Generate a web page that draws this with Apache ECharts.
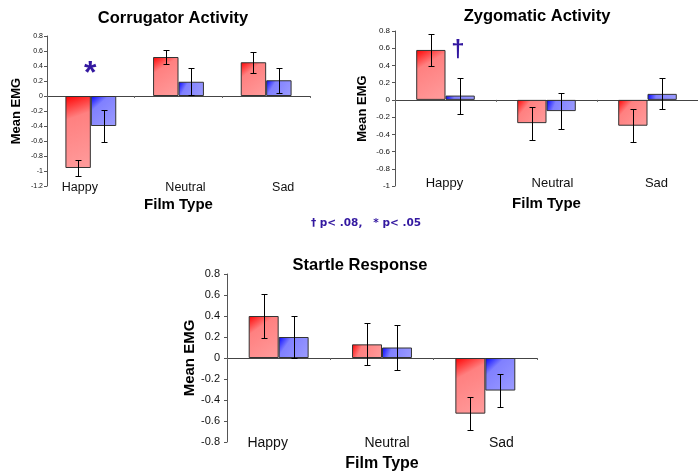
<!DOCTYPE html>
<html>
<head>
<meta charset="utf-8">
<script src="https://cdn.jsdelivr.net/npm/echarts@6/dist/echarts.min.js"></script>
<style>
  html, body { margin: 0; padding: 0; background: #fff; }
  #c { width: 698px; height: 475px; }
</style>
</head>
<body>
<div id="c"></div>
<script>
// Film categories shared by all three panels
const categories = ['Happy', 'Neutral', 'Sad'];

// Corrugator activity (mean EMG) and error bar half-lengths
const corrugatorRed = [-0.96, 0.52, 0.45];
const corrugatorRedErr = [0.11, 0.10, 0.14];
const corrugatorBlue = [-0.40, 0.19, 0.21];
const corrugatorBlueErr = [0.21, 0.18, 0.17];

// Zygomatic activity
const zygomaticRed = [0.58, -0.27, -0.30];
const zygomaticRedErr = [0.19, 0.19, 0.19];
const zygomaticBlue = [0.05, -0.13, 0.07];
const zygomaticBlueErr = [0.21, 0.21, 0.18];

// Startle response
const startleRed = [0.40, 0.13, -0.53];
const startleRedErr = [0.21, 0.20, 0.16];
const startleBlue = [0.20, 0.10, -0.31];
const startleBlueErr = [0.20, 0.21, 0.16];

// Y-axis ranges
const corrugatorRange = [-1.2, 0.8];
const zygomaticRange = [-1.0, 0.8];
const startleRange = [-0.8, 0.8];

const panelTitles = ['Corrugator Activity', 'Zygomatic Activity', 'Startle Response'];
const footnote = '\u2020 p< .08,   * p< .05';

const FONT = '"Liberation Sans", Arial, sans-serif';
const GAP = 0.42;
const MARK_COLOR = '#3318a0';

function fill(dark, mid, light) {
  return new echarts.graphic.LinearGradient(0, 0, 1, 1, [
    { offset: 0, color: dark },
    { offset: 0.3, color: mid },
    { offset: 1, color: light }
  ]);
}
const redFill = fill('#ff0000', '#ff8080', '#ff9c9c');
const blueFill = fill('#0000ff', '#8080ff', '#9c9cff');

const panels = [
  { title: panelTitles[0], red: corrugatorRed, redErr: corrugatorRedErr, blue: corrugatorBlue, blueErr: corrugatorBlueErr,
    range: corrugatorRange, grid: { left: 47, top: 36, width: 263, height: 150 },
    titlePos: [173, 18], yFont: 7, yMargin: 4, catFont: 12.5, catMargin: -5, nameFont: 13, yNameGap: 24,
    xNameFont: 15, xNameGap: 11, labelShift: [-11, 7, 17] },
  { title: panelTitles[1], red: zygomaticRed, redErr: zygomaticRedErr, blue: zygomaticBlue, blueErr: zygomaticBlueErr,
    range: zygomaticRange, grid: { left: 395, top: 31, width: 309, height: 155 },
    titlePos: [537, 16], yFont: 8, yMargin: 5, catFont: 13, catMargin: -9, nameFont: 13, yNameGap: 26,
    xNameFont: 15, xNameGap: 10, labelShift: [-1, 6, 9] },
  { title: panelTitles[2], red: startleRed, redErr: startleRedErr, blue: startleBlue, blueErr: startleBlueErr,
    range: startleRange, grid: { left: 227, top: 274, width: 310, height: 168 },
    titlePos: [360, 265], yFont: 11, yMargin: 7, catFont: 14, catMargin: -6, nameFont: 15, yNameGap: 30,
    xNameFont: 16, xNameGap: 14, labelShift: [-11, 5, 16] }
];

const grids = [], xAxes = [], yAxes = [], series = [], graphics = [];

function errorBars(gi, red, redErr, blue, blueErr) {
  const data = [];
  categories.forEach((c, k) => {
    data.push([k, red[k], redErr[k], 0]);
    data.push([k, blue[k], blueErr[k], 1]);
  });
  return {
    type: 'custom', xAxisIndex: 2 * gi, yAxisIndex: gi, z: 5, silent: true, data,
    renderItem(params, api) {
      const k = api.value(0), v = api.value(1), e = api.value(2), s = api.value(3);
      const band = api.size([1, 0])[0];
      const bw = band * (1 - GAP) / 2;
      const x = Math.round(api.coord([k, 0])[0] + (s === 0 ? -bw / 2 : bw / 2)) + 0.5;
      const yT = Math.round(api.coord([k, v + e])[1]) + 0.5;
      const yB = Math.round(api.coord([k, v - e])[1]) + 0.5;
      const cap = 3;
      const st = { stroke: '#000', lineWidth: 1 };
      return { type: 'group', children: [
        { type: 'line', shape: { x1: x, y1: yT, x2: x, y2: yB }, style: st },
        { type: 'line', shape: { x1: x - cap, y1: yT, x2: x + cap, y2: yT }, style: st },
        { type: 'line', shape: { x1: x - cap, y1: yB, x2: x + cap, y2: yB }, style: st }
      ] };
    }
  };
}

// per-category label nudges expressed as rich-text padding
function shiftedLabels(shifts, fontSize) {
  const rich = {};
  shifts.forEach((d, k) => {
    rich['c' + k] = {
      padding: d >= 0 ? [0, 0, 0, 2 * d] : [0, -2 * d, 0, 0],
      fontFamily: FONT, fontSize, color: '#111'
    };
  });
  return { rich, formatter: (val, idx) => '{c' + idx + '|' + val + '}' };
}

panels.forEach((p, i) => {
  grids.push(p.grid);
  // zero line with boundary ticks
  xAxes.push({
    type: 'category', gridIndex: i, data: categories,
    axisLine: { show: true, onZero: true, lineStyle: { color: '#444', width: 1 } },
    axisTick: { show: true, length: 2, lineStyle: { color: '#666' } },
    axisLabel: { show: false }, splitLine: { show: false }
  });
  // category labels and axis title along the bottom
  const lab = shiftedLabels(p.labelShift, p.catFont);
  xAxes.push({
    type: 'category', gridIndex: i, data: categories, position: 'bottom',
    axisLine: { show: false, onZero: false }, axisTick: { show: false },
    axisLabel: { show: true, fontFamily: FONT, fontSize: p.catFont, color: '#111', margin: p.catMargin,
      formatter: lab.formatter, rich: lab.rich },
    name: 'Film Type', nameLocation: 'middle', nameGap: p.xNameGap,
    nameTextStyle: { fontFamily: FONT, fontWeight: 'bold', fontSize: p.xNameFont, color: '#000' }
  });
  yAxes.push({
    type: 'value', gridIndex: i, min: p.range[0], max: p.range[1], interval: 0.2,
    splitLine: { show: false },
    axisLine: { show: true, lineStyle: { color: '#555' } },
    axisTick: { show: true, length: 3, lineStyle: { color: '#555' } },
    axisLabel: { fontFamily: FONT, fontSize: p.yFont, color: '#111', margin: p.yMargin },
    name: 'Mean EMG', nameLocation: 'middle', nameRotate: 90, nameGap: p.yNameGap,
    nameTextStyle: { fontFamily: FONT, fontWeight: 'bold', fontSize: p.nameFont, color: '#000' }
  });
  const barBase = {
    type: 'bar', xAxisIndex: 2 * i, yAxisIndex: i, barGap: '0%', barCategoryGap: (GAP * 100) + '%',
    silent: true, z: 2
  };
  series.push(Object.assign({}, barBase, {
    name: p.title + ' A', data: p.red,
    itemStyle: { color: redFill, borderColor: '#333', borderWidth: 1 }
  }));
  series.push(Object.assign({}, barBase, {
    name: p.title + ' B', data: p.blue,
    itemStyle: { color: blueFill, borderColor: '#333', borderWidth: 1 }
  }));
  series.push(errorBars(i, p.red, p.redErr, p.blue, p.blueErr));
  graphics.push({
    type: 'text', x: p.titlePos[0], y: p.titlePos[1],
    style: { text: p.title, font: 'bold 16.5px ' + FONT, fill: '#000', align: 'center', verticalAlign: 'middle' }
  });
});

// significance markers (anchored on the first bar of each group, nudged to the group centre)
series[0].markPoint = {
  symbol: 'circle', symbolSize: 1, itemStyle: { color: 'rgba(0,0,0,0)' }, silent: true,
  label: { show: true, position: 'inside', formatter: '*', fontFamily: FONT, fontWeight: 'bold', fontSize: 32, color: MARK_COLOR, offset: [12, 7] },
  data: [{ coord: ['Happy', 0.39] }]
};
series[3].markPoint = {
  symbol: 'circle', symbolSize: 1, itemStyle: { color: 'rgba(0,0,0,0)' }, silent: true,
  label: { show: true, position: 'inside', formatter: '\u2020', fontFamily: FONT, fontWeight: 'bold', fontSize: 24, color: MARK_COLOR, offset: [27, 2] },
  data: [{ coord: ['Happy', 0.6] }]
};

graphics.push({
  type: 'text', x: 366, y: 223,
  style: { text: footnote, font: 'bold 10.5px "DejaVu Sans", Verdana, sans-serif', fill: MARK_COLOR, align: 'center', verticalAlign: 'middle' }
});

const chart = echarts.init(document.getElementById('c'), null, { renderer: 'canvas' });
chart.setOption({
  backgroundColor: '#fff',
  animation: false,
  grid: grids, xAxis: xAxes, yAxis: yAxes, series, graphic: graphics
});
</script>
</body>
</html>
